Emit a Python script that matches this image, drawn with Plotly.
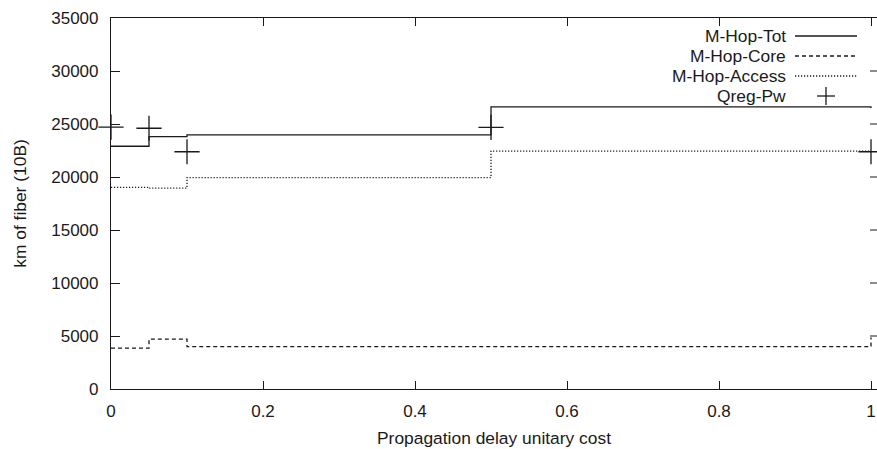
import plotly.graph_objects as go

# Propagation delay unitary cost values (x) and fiber totals per series
x_cost = [0, 0.05, 0.1, 0.5, 1]
m_hop_tot = [22900, 23800, 23970, 26610, 26500]
m_hop_core = [3850, 4710, 3990, 3990, 4850]
m_hop_access = [19030, 18950, 19950, 22450, 22450]
qreg_pw = [24700, 24600, 22380, 24680, 22380]

series_names = ["M-Hop-Tot", "M-Hop-Core", "M-Hop-Access", "Qreg-Pw"]
y_ticks = [0, 5000, 10000, 15000, 20000, 25000, 30000, 35000]
x_ticks = [0, 0.2, 0.4, 0.6, 0.8, 1]
x_tick_text = ["0", "0.2", "0.4", "0.6", "0.8", "1"]

W, H = 877, 449
ML, MR, MT, MB = 111, 0, 18, 60
PLOT_W = W - ML - MR
PLOT_H = H - MT - MB
X_UNIT_PX = 760.0  # pixels per unit of cost
x_max = PLOT_W / X_UNIT_PX

FONT = "Liberation Sans, Arial, Helvetica, sans-serif"
INK = "#1a1a1a"
LW = 1.3
TICK_FS = 17
TEXT_FS = 17.4

fig = go.Figure()

line_styles = [
    dict(color=INK, width=LW, dash="solid"),
    dict(color=INK, width=LW, dash="4px,3px"),
    dict(color=INK, width=LW, dash="1.2px,1.8px"),
]
for name, vals, st in zip(series_names[:3], [m_hop_tot, m_hop_core, m_hop_access], line_styles):
    fig.add_trace(go.Scatter(
        x=x_cost, y=vals, name=name, mode="lines",
        line=dict(shape="hv", **st), showlegend=False, cliponaxis=False,
    ))

fig.add_trace(go.Scatter(
    x=x_cost, y=qreg_pw, name=series_names[3], mode="markers",
    marker=dict(symbol="cross-thin", size=18, line=dict(color=INK, width=1.3)),
    showlegend=False, cliponaxis=False,
))

shapes = []
annotations = []

# Inward ticks along the right edge of the frame
tick_len_px = 7
for yt in y_ticks[1:-1]:
    shapes.append(dict(type="line", xref="paper", yref="y",
                       x0=1 - tick_len_px / PLOT_W, x1=1, y0=yt, y1=yt,
                       line=dict(color=INK, width=1)))

# Key box in the upper right: label text right-aligned, sample to its right
def px_to_paper_x(px):
    return (px - ML) / PLOT_W

def px_to_paper_y(py):
    return 1 - (py - MT) / PLOT_H

row_y = [36, 56, 76, 96]
text_right = 788
samp_x0, samp_x1 = 795, 857
for i, name in enumerate(series_names):
    py = row_y[i]
    annotations.append(dict(
        xref="paper", yref="paper", x=px_to_paper_x(text_right), y=px_to_paper_y(py),
        text=name, showarrow=False, xanchor="right", yanchor="middle",
        font=dict(family=FONT, size=TEXT_FS, color=INK),
    ))
    if i < 3:
        st = line_styles[i]
        shapes.append(dict(type="line", xref="paper", yref="paper",
                           x0=px_to_paper_x(samp_x0), x1=px_to_paper_x(samp_x1),
                           y0=px_to_paper_y(py), y1=px_to_paper_y(py),
                           line=dict(color=INK, width=LW, dash=st["dash"])))
    else:
        cx = (samp_x0 + samp_x1) / 2
        arm = 9
        shapes.append(dict(type="line", xref="paper", yref="paper",
                           x0=px_to_paper_x(cx - arm), x1=px_to_paper_x(cx + arm),
                           y0=px_to_paper_y(py), y1=px_to_paper_y(py),
                           line=dict(color=INK, width=LW)))
        shapes.append(dict(type="line", xref="paper", yref="paper",
                           x0=px_to_paper_x(cx), x1=px_to_paper_x(cx),
                           y0=px_to_paper_y(py - arm), y1=px_to_paper_y(py + arm),
                           line=dict(color=INK, width=LW)))

fig.update_layout(
    width=W, height=H,
    margin=dict(l=ML, r=MR, t=MT, b=MB),
    paper_bgcolor="white", plot_bgcolor="white",
    font=dict(family=FONT, size=TICK_FS, color=INK),
    shapes=shapes, annotations=annotations,
    showlegend=False,
)

fig.update_xaxes(
    range=[0, x_max], tickvals=x_ticks, ticktext=x_tick_text,
    ticks="inside", ticklen=8, tickcolor=INK, tickwidth=1,
    showline=True, linecolor=INK, linewidth=1.2, mirror="ticks",
    showgrid=False, zeroline=False, ticklabelstandoff=6,
    title=dict(text="Propagation delay unitary cost", standoff=12,
               font=dict(family=FONT, size=TEXT_FS, color=INK)),
    tickfont=dict(family=FONT, size=TICK_FS, color=INK),
)
fig.update_yaxes(
    range=[0, 35000], tickvals=y_ticks, ticktext=[str(v) for v in y_ticks],
    ticks="inside", ticklen=9, tickcolor=INK, tickwidth=1,
    showline=True, linecolor=INK, linewidth=1.2, mirror=False,
    showgrid=False, zeroline=False, ticklabelstandoff=8,
    title=dict(text="km of fiber (10B)", standoff=20,
               font=dict(family=FONT, size=TEXT_FS, color=INK)),
    tickfont=dict(family=FONT, size=TICK_FS, color=INK),
)

fig.write_html("out.html")
